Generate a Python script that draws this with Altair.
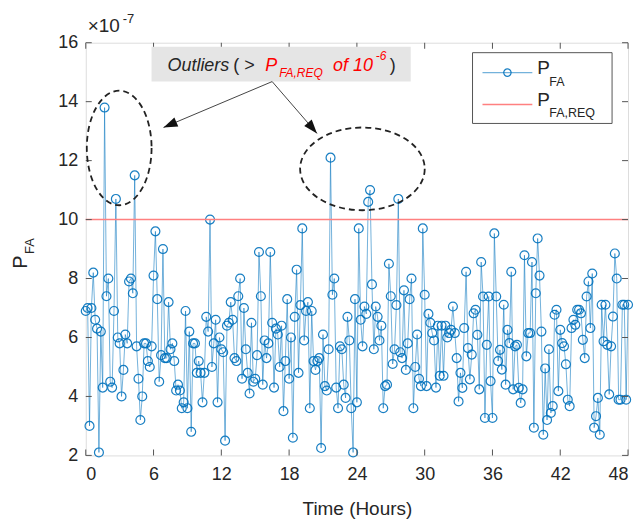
import altair as alt
import pandas as pd

# ---------------- data (P_FA in units of 1e-7, one sample every 10 minutes) ----------------
seg_h00_h08 = [6.9, 7.0, 3.0, 7.0, 8.2, 6.6, 6.3, 2.1, 6.2, 4.3, 13.8, 7.4, 8.0, 4.5, 4.3, 6.9,
               10.7, 6.0, 5.8, 4.0, 4.9, 6.1, 5.8, 7.9, 8.0, 7.5, 11.5, 5.7, 4.6, 3.2, 4.0, 5.8,
               5.8, 5.2, 5.0, 5.7, 8.1, 9.6, 7.3, 4.5, 5.4, 9.0, 5.3, 5.3, 7.2, 5.6, 5.8, 5.2, 4.2]
seg_h08_h16 = [4.4, 4.2, 3.6, 3.8, 6.9, 3.6, 6.2, 2.8, 5.8, 5.8, 4.8, 5.2, 4.8, 3.8, 4.8, 6.7,
               6.2, 10.0, 5.0, 5.8, 6.6, 3.8, 6.0, 5.6, 5.5, 2.5, 6.4, 6.5, 7.2, 6.6, 5.3, 5.2,
               7.4, 8.0, 4.6, 7.0, 5.6, 4.8, 4.1, 6.5, 4.5, 4.6, 5.4, 8.9, 7.4, 4.4, 5.9, 5.3]
seg_h16_h24 = [5.8, 8.9, 6.5, 4.3, 6.3, 6.1, 5.0, 6.4, 3.5, 5.2, 7.3, 4.6, 6.0, 2.6, 6.7, 8.3,
               4.8, 7.1, 9.7, 5.9, 6.9, 7.2, 3.6, 6.9, 5.2, 4.9, 5.2, 5.3, 2.25, 6.1, 4.35, 4.2,
               5.6, 12.1, 7.45, 8.0, 4.3, 3.6, 5.7, 5.6, 4.4, 3.95, 6.7, 5.9, 3.6, 2.1, 7.3, 3.8]
seg_h24_h32 = [9.7, 6.6, 5.7, 7.05, 6.8, 10.6, 11.0, 7.8, 5.6, 7.05, 6.7, 5.9, 6.4, 3.6, 4.35, 4.4,
               8.5, 7.4, 5.1, 5.6, 7.1, 10.7, 5.5, 5.3, 7.6, 4.9, 5.8, 7.3, 8.0, 3.6, 5.0, 6.1,
               4.6, 4.35, 9.7, 7.45, 4.35, 6.8, 6.5, 6.15, 5.9, 4.3, 6.4, 4.7, 6.4, 4.7, 6.4, 6.0]
seg_h32_h40 = [6.15, 6.26, 7.05, 6.15, 5.3, 3.83, 4.8, 4.29, 6.32, 8.23, 5.64, 4.58, 5.42, 6.82, 6.94, 6.09,
               4.24, 8.56, 7.39, 3.27, 5.75, 7.39, 4.52, 3.27, 9.53, 7.39, 5.2, 5.58, 4.91, 7.11, 4.40, 6.26,
               5.81, 8.23, 4.24, 5.70, 5.75, 4.29, 3.78, 4.24, 8.79, 5.36, 6.15, 6.15, 8.56, 2.94, 7.5, 9.36]
seg_h40_h48 = [8.1, 6.2, 2.7, 4.95, 3.2, 5.6, 3.44, 3.67, 6.77, 6.94, 4.18, 6.26, 5.81, 5.7, 5.09, 3.89,
               3.67, 6.32, 6.6, 6.43, 6.94, 6.94, 6.82, 5.92, 5.3, 7.39, 7.9, 6.32, 8.17, 2.94, 3.33, 3.95,
               2.70, 7.11, 5.87, 7.11, 5.75, 4.07, 5.70, 6.71, 8.85, 8.0, 3.89, 3.89, 7.11, 7.11, 3.89, 7.11]

SAMPLES_PER_HOUR = 6
P_FA_REQ = 10.0                      # 1e-6 expressed in units of 1e-7
X_TICKS = [0, 6, 12, 18, 24, 30, 36, 42, 48]
Y_TICKS = [2, 4, 6, 8, 10, 12, 14, 16]

values = seg_h00_h08 + seg_h08_h16 + seg_h16_h24 + seg_h24_h32 + seg_h32_h40 + seg_h40_h48
times = [i / SAMPLES_PER_HOUR for i in range(len(values))]
df = pd.DataFrame({"t": times, "v": values})
one = pd.DataFrame({"k": [0]})
xt = pd.DataFrame({"x": X_TICKS})
yt = pd.DataFrame({"y": Y_TICKS})

# ---------------- styling ----------------
FONT = "Liberation Sans"
W, H = 544, 414
BLUE = "#0072BD"
TXT = "#262626"
FRAME = "#555555"

xs = alt.Scale(domain=[0, 48], nice=False, zero=False)
ys = alt.Scale(domain=[2, 16], nice=False, zero=False)

main_x = alt.Axis(orient="bottom", values=X_TICKS, title="Time (Hours)", grid=False, domain=False,
                  ticks=False, tickSize=0, labelFont=FONT, labelFontSize=18, labelColor=TXT,
                  labelPadding=10, titleFont=FONT, titleFontSize=19, titleFontWeight="normal",
                  titleColor=TXT, titlePadding=16)
main_y = alt.Axis(orient="left", values=Y_TICKS, title=None, grid=False, domain=False,
                  ticks=False, tickSize=0, labelFont=FONT, labelFontSize=18, labelColor=TXT,
                  labelPadding=8)

line = alt.Chart(df).mark_line(color=BLUE, strokeOpacity=0.55, strokeWidth=1).encode(
    x=alt.X("t:Q", scale=xs, axis=main_x),
    y=alt.Y("v:Q", scale=ys, axis=main_y),
)
points = alt.Chart(df).mark_point(shape="circle", size=80, filled=False, color=BLUE,
                                  strokeWidth=1.2, opacity=0.9).encode(
    x=alt.X("t:Q", scale=xs, axis=None),
    y=alt.Y("v:Q", scale=ys, axis=None),
)

# inward ticks on all four sides (MATLAB box style)
tick_layers = [
    alt.Chart(xt).mark_tick(orient="vertical", size=6, thickness=1, color=FRAME, opacity=1).encode(
        x=alt.X("x:Q", scale=xs, axis=None), y=alt.value(H - 3)),
    alt.Chart(xt).mark_tick(orient="vertical", size=6, thickness=1, color=FRAME, opacity=1).encode(
        x=alt.X("x:Q", scale=xs, axis=None), y=alt.value(3)),
    alt.Chart(yt).mark_tick(orient="horizontal", size=6, thickness=1, color=FRAME, opacity=1).encode(
        y=alt.Y("y:Q", scale=ys, axis=None), x=alt.value(3)),
    alt.Chart(yt).mark_tick(orient="horizontal", size=6, thickness=1, color=FRAME, opacity=1).encode(
        y=alt.Y("y:Q", scale=ys, axis=None), x=alt.value(W - 3)),
]

req = alt.Chart(one).mark_rule(color="#ff8080", strokeWidth=1.5).encode(
    y=alt.Y(datum=P_FA_REQ, type="quantitative", scale=ys, axis=None)
)


def txt(s, x, y, size, color=TXT, italic=False, align="left", angle=None):
    kw = dict(text=s, font=FONT, fontSize=size, color=color, align=align, baseline="alphabetic",
              fontStyle="italic" if italic else "normal")
    if angle is not None:
        kw["angle"] = angle
    return alt.Chart(one).mark_text(**kw).encode(x=alt.value(x), y=alt.value(y))


def ellipse_path(a, b):
    k = 0.5523
    return (f"M {a} 0 C {a} {k*b:.4f} {k*a:.4f} {b} 0 {b} "
            f"C {-k*a:.4f} {b} {-a} {k*b:.4f} {-a} 0 "
            f"C {-a} {-k*b:.4f} {-k*a:.4f} {-b} 0 {-b} "
            f"C {k*a:.4f} {-b} {a} {-k*b:.4f} {a} 0 Z")


def ellipse(hx, vy, a, b, scale_px):
    return alt.Chart(one).mark_point(shape=ellipse_path(a, b), size=(2 * scale_px) ** 2,
                                     filled=False, color="#222222", strokeWidth=1.8,
                                     strokeDash=[6, 4], opacity=1).encode(
        x=alt.X(datum=hx, type="quantitative", scale=xs, axis=None),
        y=alt.Y(datum=vy, type="quantitative", scale=ys, axis=None),
    )


ARROW = "M 0 0 L 0.7 2 L -0.7 2 Z"


def arrow(x1, y1, x2, y2, ang):
    shaft = alt.Chart(one).mark_rule(color="#444444", strokeWidth=1).encode(
        x=alt.value(x1), y=alt.value(y1), x2=alt.value(x2), y2=alt.value(y2))
    head = alt.Chart(one).mark_point(shape=ARROW, size=196, filled=True, color="#111111",
                                     angle=ang, opacity=1, strokeWidth=0).encode(
        x=alt.value(x2), y=alt.value(y2))
    return [shaft, head]


# annotation box
ann_box = alt.Chart(one).mark_rect(fill="#e5e5e5").encode(
    x=alt.value(66), x2=alt.value(326), y=alt.value(4), y2=alt.value(39))
ann_texts = [
    txt("Outliers", 82, 28, 18, italic=True),
    txt("( >", 148, 28, 18),
    txt("P", 180, 28, 18, color="#ff0000", italic=True),
    txt("FA,REQ", 194, 34, 12, color="#ff0000", italic=True),
    txt("of 10", 248, 28, 18, color="#ff0000", italic=True),
    txt("-6", 291, 17, 12, color="#ff0000", italic=True),
    txt(")", 305, 28, 18),
]

# legend
leg = [
    alt.Chart(one).mark_rect(fill="white", stroke="#555555", strokeWidth=1).encode(
        x=alt.value(388), x2=alt.value(528), y=alt.value(10), y2=alt.value(81)),
    alt.Chart(one).mark_rule(color=BLUE, strokeOpacity=0.55, strokeWidth=1.2).encode(
        x=alt.value(398), x2=alt.value(448), y=alt.value(30)),
    alt.Chart(one).mark_point(shape="circle", size=55, filled=False, color=BLUE,
                              strokeWidth=1.2, opacity=0.9).encode(x=alt.value(423), y=alt.value(30)),
    alt.Chart(one).mark_rule(color="#ff8080", strokeWidth=1.5).encode(
        x=alt.value(398), x2=alt.value(448), y=alt.value(62)),
    txt("P", 453, 31, 19),
    txt("FA", 465, 43, 12.5),
    txt("P", 453, 63, 19),
    txt("FA,REQ", 465, 75, 12.5),
]

# y-axis title and exponent
extra = [
    txt("P", -59, 220, 20, align="center", angle=270),
    txt("FA", -52, 212, 13, align="left", angle=270),
    txt("\u00d710", 2, -11, 19),
    txt("-7", 37, -20, 13),
]

layers = [line, points, req] + tick_layers + [
    ellipse(2.96, 12.43, 0.565, 1, 57.5),
    ellipse(24.49, 11.72, 1, 0.664, 62.5),
    ann_box] + ann_texts + arrow(187, 39, 78, 85, 246.7) + arrow(187, 39, 232, 91, 139.7) + leg + extra

chart = alt.layer(*layers).resolve_axis(x="independent", y="independent").properties(
    width=W, height=H,
    autosize=alt.AutoSizeParams(type="none"),
    padding={"left": 78, "top": 34, "right": 8, "bottom": 66},
).configure_view(stroke=FRAME, strokeWidth=1).configure(font=FONT)

chart.save("out.html", embed_options={"renderer": "svg", "actions": False})
